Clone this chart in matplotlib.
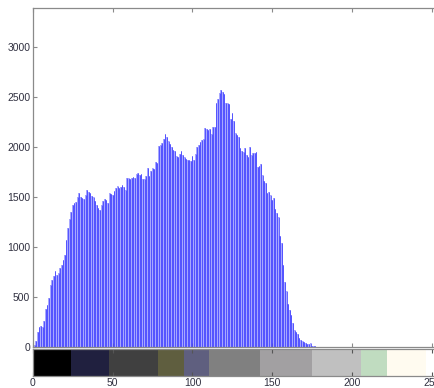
import numpy as np
import matplotlib
matplotlib.use("Agg")
import matplotlib.pyplot as plt

# histogram counts, bins 0..179 (the rest are empty)
counts_head = [
    0, 20, 60, 150, 200, 210, 200, 260, 380, 420,
    490, 620, 670, 710, 760, 720, 740, 790, 820, 870,
    920, 1070, 1190, 1280, 1350, 1420, 1440, 1450, 1500, 1540,
    1500, 1490, 1480, 1520, 1570, 1550, 1540, 1510, 1500, 1460,
    1420, 1390, 1370, 1420, 1460, 1480, 1470, 1440, 1540, 1530,
    1520, 1560, 1590, 1610, 1590, 1600, 1620, 1600, 1570, 1690,
    1690, 1680, 1690, 1700, 1690, 1730, 1740, 1720, 1730, 1680,
    1680, 1710, 1790, 1710, 1760, 1790, 1780, 1850, 1840, 2010,
    2020, 2040, 2080, 2130, 2100, 2060, 2030, 2000, 1970, 1960,
    1910, 1900, 1930, 1960, 1920, 1900, 1880, 1870, 1870, 1860,
    1910, 1870, 1930, 2000, 2020, 2050, 2070, 2080, 2190, 2180,
    2170, 2180, 2130, 2200, 2200, 2440, 2480, 2540, 2570, 2550,
    2530, 2440, 2440, 2430, 2280, 2340, 2260, 2140, 2120, 2100,
    1990, 1960, 1950, 1990, 1920, 1900, 2000, 1920, 1940, 1940,
    1950, 1800, 1810, 1830, 1720, 1660, 1640, 1540, 1550, 1520,
    1470, 1490, 1380, 1340, 1300, 1110, 1040, 820, 650, 560,
    430, 370, 320, 240, 170, 150, 130, 90, 70, 60,
    50, 40, 35, 30, 40, 15, 10, 8, 5, 2,
]
counts = np.array(counts_head + [0] * (256 - len(counts_head)))
bins = np.arange(256)

# colour strip under the histogram: first bin of each band and its colour
strip_starts = [0, 24, 48, 79, 95, 111, 143, 175, 206, 222, 247]
strip_colors = ["#000000", "#20203f", "#404040", "#5f5e3f", "#5f5f7f",
                "#808080", "#a2a0a2", "#c0c0c0", "#c0dcc0", "#fffbf0", "#ffffff"]

xticks = [0, 50, 100, 150, 200, 250]
yticks = [0, 500, 1000, 1500, 2000, 2500, 3000]

plt.rcParams["font.family"] = ["Liberation Sans", "DejaVu Sans"]
edge = "#8a8a8a"
txt = "#303040"

fig = plt.figure(figsize=(4.35, 3.88), dpi=100)
fig.patch.set_facecolor("white")

left = 33 / 435
width = 255 * 1.595 / 435
ax = fig.add_axes([left, 1 - 347 / 388, width, 339 / 388])
ax.bar(bins, counts, width=1.0, color="#a8a8ff", linewidth=0)
ax.vlines(bins, 0, counts, color="#3c3cff", linewidth=0.55)
ax.set_xlim(0, 255)
ax.set_ylim(0, 3390)
ax.set_xticks(xticks)
ax.set_xticklabels([])
ax.set_yticks(yticks)
ax.tick_params(direction="in", length=3, width=0.8, color=edge,
               top=True, right=True, labelsize=7.5, labelcolor=txt, pad=2)
for s in ax.spines.values():
    s.set_color(edge)
    s.set_linewidth(0.9)

# colour strip
rgb = np.array([matplotlib.colors.to_rgb(c) for c in strip_colors])
idx = np.searchsorted(strip_starts, bins, side="right") - 1
strip = rgb[idx][np.newaxis, :, :]
cax = fig.add_axes([left, 1 - 376 / 388, width, 27 / 388])
cax.imshow(strip, extent=(-0.5, 255.5, 0, 1), aspect="auto", interpolation="nearest")
cax.set_xlim(0, 255)
cax.set_ylim(0, 1)
cax.set_yticks([])
cax.set_xticks(xticks)
cax.tick_params(direction="in", length=3, width=0.8, color="#555555",
                top=True, labelsize=7.5, labelcolor=txt, pad=1.5)
for s in cax.spines.values():
    s.set_color(edge)
    s.set_linewidth(0.9)

fig.savefig("out.png", dpi=100, facecolor="white")
